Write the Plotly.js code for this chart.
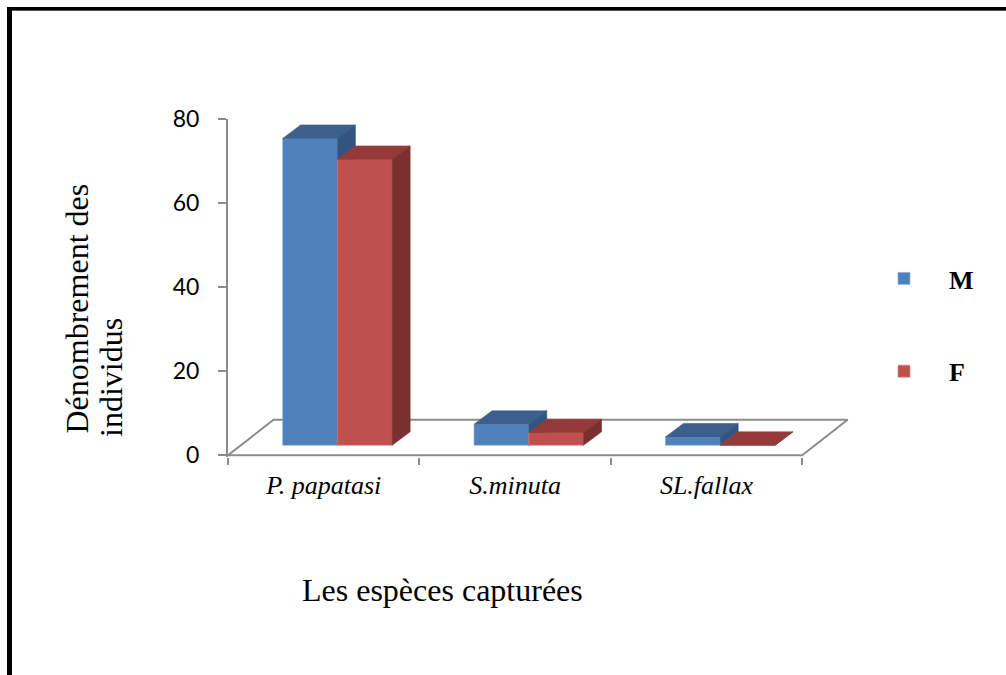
<!DOCTYPE html>
<html>
<head>
<meta charset="utf-8">
<script src="https://cdn.plot.ly/plotly-3.0.1.min.js"></script>
<style>
  html, body { margin: 0; padding: 0; background: #fff; overflow: hidden; }
  #chart { position: absolute; left: 0; top: 0; width: 1006px; height: 675px; }
  /* thick page frame: left and top rules only */
  #frame {
    position: absolute; left: 7px; top: 7px; width: 1020px; height: 700px;
    border-left: 5px solid #000; border-top: 3px solid #000;
    box-shadow: inset 0 1px 0 #555;
    pointer-events: none;
  }
</style>
</head>
<body>
<div id="chart"></div>
<div id="frame"></div>
<script>
// Captured sandflies per species, by sex
const species = ['P. papatasi', 'S.minuta', 'SL.fallax'];
const males = [73, 5, 2];
const females = [68, 3, 0];
const seriesNames = ['M', 'F'];
const yTickVals = [0, 20, 40, 60, 80];

// ---- layout geometry ----
const W = 1006, H = 675;
const margin = { l: 228, r: 156, t: 119, b: 218, pad: 0 };
const xRange = [-0.5, 2.75];
const yRange = [-0.4, 80];
const plotW = W - margin.l - margin.r;
const plotH = H - margin.t - margin.b;
const pxPerX = plotW / (xRange[1] - xRange[0]);
const pxPerY = plotH / (yRange[1] - yRange[0]);

// pseudo-3D depth (pixels): floor, bar offset from the front edge, bar thickness
const FLOOR_DX = 45.5, FLOOR_DY = 35.5;
const FRONT_DX = 13.7, FRONT_DY = 10;
const DEPTH_DX = 18, DEPTH_DY = 13.5;
const BAR_W = 0.286;

const fx = FRONT_DX / pxPerX, fy = FRONT_DY / pxPerY;
const ddx = DEPTH_DX / pxPerX, ddy = DEPTH_DY / pxPerY;

const colors = {
  M: { front: '#4F81BD', top: '#3C5F8C', side: '#335480', edge: '#8DB0DB' },
  F: { front: '#C0504D', top: '#943A38', side: '#7A302F', edge: '#D88A88' }
};

const cats = species.map((_, i) => i);

// polygons for the top and right faces of each bar, separated by gaps
function faces(values, offset) {
  const top = { x: [], y: [] }, side = { x: [], y: [] };
  values.forEach((v, i) => {
    const x0 = cats[i] + offset, x1 = x0 + BAR_W;
    top.x.push(x0, x1, x1 + ddx, x0 + ddx, x0, null);
    top.y.push(v, v, v + ddy, v + ddy, v, null);
    side.x.push(x1, x1, x1 + ddx, x1 + ddx, x1, null);
    side.y.push(0, v, v + ddy, ddy, 0, null);
  });
  return { top, side };
}

function seriesTraces(name, values, offset, xa, ya) {
  const c = colors[name];
  const f = faces(values, offset);
  return [
    {
      type: 'bar', name: name, x: cats, y: values, width: BAR_W, offset: offset,
      xaxis: xa, yaxis: ya, legendgroup: name,
      marker: { color: c.front, line: { color: c.edge, width: 0.6 } },
      hoverinfo: 'y+name'
    },
    {
      type: 'scatter', mode: 'lines', x: f.top.x, y: f.top.y, fill: 'toself',
      fillcolor: c.top, line: { color: c.top, width: 0.6 },
      xaxis: xa, yaxis: ya, showlegend: false, hoverinfo: 'skip', legendgroup: name
    },
    {
      type: 'scatter', mode: 'lines', x: f.side.x, y: f.side.y, fill: 'toself',
      fillcolor: c.side, line: { color: c.side, width: 0.6 },
      xaxis: xa, yaxis: ya, showlegend: false, hoverinfo: 'skip', legendgroup: name
    }
  ];
}

// floor parallelogram under the categories
const floorX0 = xRange[0], floorX1 = cats[cats.length - 1] + 0.5;
const fdx = FLOOR_DX / pxPerX, fdy = FLOOR_DY / pxPerY;
const floor = {
  type: 'scatter', mode: 'lines',
  x: [floorX0, floorX0 + fdx, floorX1 + fdx, floorX1, floorX0],
  y: [0, fdy, fdy, 0, 0],
  line: { color: '#8C8C8C', width: 2 },
  showlegend: false, hoverinfo: 'skip'
};

const traces = [floor]
  .concat(seriesTraces(seriesNames[0], males, -BAR_W, 'x2', 'y2'))
  .concat(seriesTraces(seriesNames[1], females, 0, 'x3', 'y3'));

const shifted = (r, d) => [r[0] - d, r[1] - d];
const hiddenAxis = (extra) => Object.assign({
  visible: false, showgrid: false, zeroline: false, fixedrange: true
}, extra);

const axisGray = '#8C8C8C';

const layout = {
  width: W, height: H,
  margin: margin,
  paper_bgcolor: '#ffffff', plot_bgcolor: 'rgba(0,0,0,0)',
  showlegend: true,
  xaxis: {
    type: 'linear', range: xRange, fixedrange: true,
    showline: false, showgrid: false, zeroline: false,
    tickmode: 'array', tickvals: cats, ticktext: species, ticks: '',
    tickfont: { family: 'Liberation Serif, Times New Roman, serif', size: 26, color: '#000', style: 'italic' },
    ticklabelstandoff: 10,
    minor: { tickmode: 'array', tickvals: [-0.5, 0.5, 1.5, 2.5], ticks: 'outside',
             ticklen: 7, tickwidth: 2, tickcolor: axisGray, showgrid: false }
  },
  yaxis: {
    range: yRange, fixedrange: true,
    showline: true, linecolor: axisGray, linewidth: 2,
    showgrid: false, zeroline: false,
    tickmode: 'array', tickvals: yTickVals,
    ticks: 'outside', ticklen: 8, tickwidth: 2, tickcolor: axisGray,
    ticklabelstandoff: 14,
    tickfont: { family: 'Lato, Open Sans, sans-serif', size: 23, color: '#000' }
  },
  xaxis2: hiddenAxis({ overlaying: 'x', range: shifted(xRange, fx) }),
  yaxis2: hiddenAxis({ overlaying: 'y', range: shifted(yRange, fy) }),
  xaxis3: hiddenAxis({ overlaying: 'x', range: shifted(xRange, fx) }),
  yaxis3: hiddenAxis({ overlaying: 'y', range: shifted(yRange, fy) }),
  legend: {
    xref: 'container', yref: 'container',
    x: 859 / W, y: 1 - 255 / H, xanchor: 'left', yanchor: 'top',
    itemwidth: 80, traceorder: 'grouped', tracegroupgap: 56,
    font: { family: 'Liberation Serif, Times New Roman, serif', size: 26, color: '#000', weight: 'bold' },
    bgcolor: 'rgba(0,0,0,0)'
  },
  annotations: [
    {
      text: 'Les espèces capturées', showarrow: false,
      xref: 'paper', yref: 'paper',
      x: (442 - margin.l) / plotW, y: -(590 - (H - margin.b)) / plotH,
      xanchor: 'center', yanchor: 'middle',
      font: { family: 'Liberation Serif, Times New Roman, serif', size: 32, color: '#000' }
    },
    {
      text: 'Dénombrement des', showarrow: false, textangle: -90,
      xref: 'paper', yref: 'paper',
      x: (76.5 - margin.l) / plotW, y: ((H - margin.b) - 309) / plotH,
      xanchor: 'center', yanchor: 'middle',
      font: { family: 'Liberation Serif, Times New Roman, serif', size: 32, color: '#000' }
    },
    {
      text: 'individus', showarrow: false, textangle: -90,
      xref: 'paper', yref: 'paper',
      x: (111 - margin.l) / plotW, y: ((H - margin.b) - 378) / plotH,
      xanchor: 'center', yanchor: 'middle',
      font: { family: 'Liberation Serif, Times New Roman, serif', size: 32, color: '#000' }
    }
  ]
};

Plotly.newPlot('chart', traces, layout, { displayModeBar: false, staticPlot: true });
</script>
</body>
</html>
